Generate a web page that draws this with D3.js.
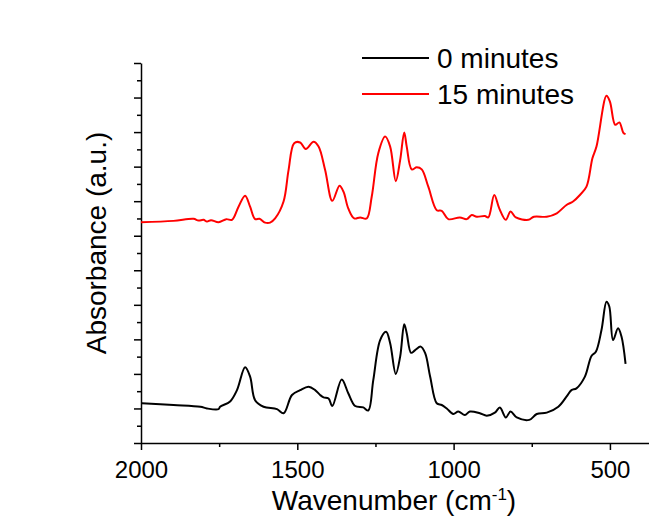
<!DOCTYPE html>
<meta charset="utf-8">
<title>FTIR spectra</title>
<style>
  body { margin: 0; background: #fff; }
  text { font-family: "Liberation Sans", Arial, sans-serif; fill: #000; }
</style>
<body>
<script src="https://d3js.org/d3.v7.min.js"></script>
<script>

// wavenumbers (cm-1) and absorbance readings for both spectra
var wnBlack = [1997, 1896, 1810, 1789, 1752, 1747, 1715, 1693, 1667, 1651, 1635, 1608, 1565, 1544, 1517, 1491, 1464, 1443, 1427, 1416, 1400, 1388, 1358, 1337, 1315, 1289, 1273, 1257, 1235, 1216, 1203, 1185, 1171, 1158, 1150, 1136, 1123, 1105, 1091, 1075, 1054, 1038, 1022, 1001, 985, 964, 948, 916, 894, 868, 852, 833, 818, 798, 758, 734, 702, 665, 639, 623, 607, 580, 559, 545, 527, 511, 502, 490, 474, 463, 450];
var absBlack = [1.15, 1.10, 1.05, 1.00, 0.98, 1.05, 1.20, 1.53, 2.19, 1.92, 1.24, 1.05, 0.98, 0.86, 1.39, 1.53, 1.63, 1.53, 1.39, 1.32, 1.29, 1.07, 1.84, 1.44, 1.07, 1.03, 0.94, 1.82, 2.98, 3.22, 2.89, 2.00, 2.50, 3.44, 3.18, 2.61, 2.69, 2.79, 2.60, 1.92, 1.15, 1.10, 1.00, 0.84, 0.91, 0.81, 0.91, 0.86, 0.79, 0.88, 1.03, 0.74, 0.91, 0.74, 0.67, 0.84, 0.88, 1.05, 1.34, 1.53, 1.58, 1.92, 2.52, 2.64, 3.27, 4.09, 3.95, 2.98, 3.32, 3.08, 2.29];

var wnRed = [2000, 1896, 1832, 1816, 1800, 1789, 1776, 1752, 1727, 1709, 1688, 1667, 1651, 1635, 1621, 1603, 1587, 1571, 1544, 1528, 1510, 1491, 1473, 1448, 1432, 1411, 1388, 1365, 1352, 1337, 1318, 1299, 1278, 1262, 1241, 1219, 1203, 1185, 1171, 1158, 1150, 1134, 1118, 1102, 1081, 1054, 1038, 1017, 980, 958, 942, 926, 900, 889, 870, 854, 833, 818, 801, 761, 743, 702, 670, 639, 618, 596, 575, 556, 543, 511, 500, 483, 470, 457, 450];
var absRed = [6.39, 6.43, 6.49, 6.44, 6.46, 6.41, 6.45, 6.39, 6.48, 6.46, 6.84, 7.16, 6.84, 6.48, 6.49, 6.38, 6.38, 6.50, 6.99, 7.90, 8.68, 8.70, 8.51, 8.72, 8.58, 7.90, 7.01, 7.45, 7.27, 6.79, 6.50, 6.53, 6.50, 7.13, 8.39, 8.87, 8.58, 7.58, 8.19, 8.99, 8.58, 7.92, 7.98, 7.92, 7.42, 6.74, 6.72, 6.48, 6.53, 6.48, 6.60, 6.55, 6.57, 6.53, 7.18, 6.79, 6.46, 6.70, 6.53, 6.46, 6.55, 6.55, 6.65, 6.89, 6.99, 7.18, 7.42, 8.24, 8.58, 10.05, 9.88, 9.21, 9.28, 8.98, 8.94];

var seriesNames = ["0 minutes", "15 minutes"];
var seriesColors = ["#000000", "#ff0000"];
var xTicks = [2000, 1750, 1500, 1250, 1000, 750, 500];
var xTickLabels = ["2000", "", "1500", "", "1000", "", "500"];

var width = 649;
var height = 520;

var svg = d3.select("body")
  .append("svg")
  .attr("width", width)
  .attr("height", height);

var x = d3.scaleLinear().domain([2000, 375]).range([141, 649]);
var y = d3.scaleLinear().domain([0, 11]).range([443, 63]);

// x axis: major and minor ticks pointing down
var xAxis = svg.append("g")
  .attr("transform", "translate(0,443)")
  .call(d3.axisBottom(x).tickValues(xTicks).tickSize(7).tickSizeOuter(0)
    .tickFormat(function(d, i) { return xTickLabels[i]; }));
xAxis.selectAll(".tick line")
  .attr("y2", function(d, i) { return i % 2 ? 4 : 7; });
xAxis.selectAll("text").style("font-size", "24px").attr("dy", "1.05em");
xAxis.select(".domain").attr("stroke-width", 1.5);
xAxis.selectAll(".tick line").attr("stroke-width", 1.5);

// y axis: ticks only, no labels
var yVals = d3.range(0, 11.01, 0.5);
var yAxis = svg.append("g")
  .attr("transform", "translate(141,0)")
  .call(d3.axisLeft(y).tickValues(yVals).tickSize(6).tickSizeOuter(0)
    .tickFormat(""));
yAxis.selectAll(".tick line")
  .attr("x2", function(d) { return d % 1 ? -4 : -7; })
  .attr("stroke-width", 1.5);
yAxis.select(".domain").attr("stroke-width", 1.5);

// axis titles
var xt = svg.append("text")
  .attr("x", 394)
  .attr("y", 510)
  .attr("text-anchor", "middle")
  .style("font-size", "28px");
xt.append("tspan").text("Wavenumber (cm");
xt.append("tspan").attr("dy", "-10").style("font-size", "17px").text("-1");
xt.append("tspan").attr("dy", "10").text(")");

svg.append("text")
  .attr("transform", "translate(106,243) rotate(-90)")
  .attr("text-anchor", "middle")
  .style("font-size", "28px")
  .text("Absorbance (a.u.)");

// spectra
var line = d3.line()
  .x(function(d) { return x(d[0]); })
  .y(function(d) { return y(d[1]); })
  .curve(d3.curveCatmullRom.alpha(0.5));

var series = [d3.zip(wnBlack, absBlack), d3.zip(wnRed, absRed)];

svg.selectAll("path.spec")
  .data(series)
  .enter().append("path")
  .attr("class", "spec")
  .attr("fill", "none")
  .attr("stroke", function(d, i) { return seriesColors[i]; })
  .attr("stroke-width", 2)
  .attr("d", line);

// legend
var legend = svg.selectAll("g.legend")
  .data(seriesNames)
  .enter().append("g")
  .attr("class", "legend")
  .attr("transform", function(d, i) { return "translate(362," + (58 + i * 36) + ")"; });

legend.append("line")
  .attr("x1", 0).attr("x2", 67)
  .attr("stroke", function(d, i) { return seriesColors[i]; })
  .attr("stroke-width", 2);

legend.append("text")
  .attr("x", 75)
  .attr("dy", "0.36em")
  .style("font-size", "28px")
  .text(function(d) { return d; });

</script>
</body>
